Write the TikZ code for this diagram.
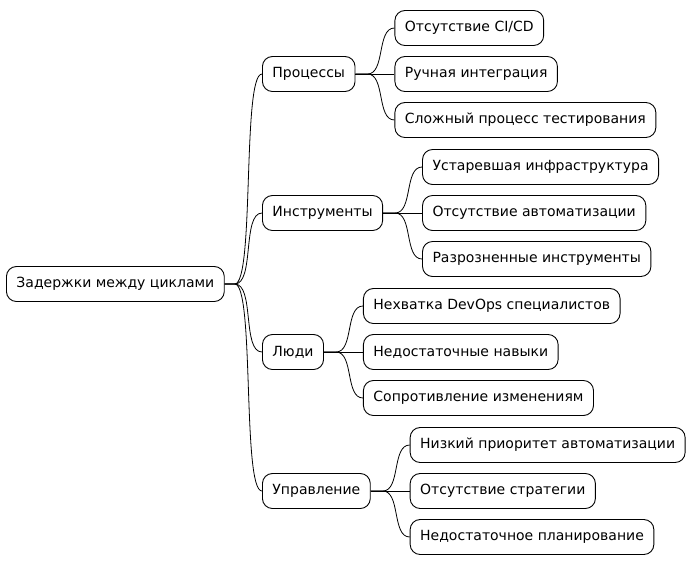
\documentclass[tikz,border=0pt]{standalone}
\usepackage{fontspec}
\setmainfont{DejaVu Sans}
\usetikzlibrary{positioning}

\begin{document}
\begin{tikzpicture}[
  x=1pt, y=-1pt,
  every node/.style={draw, rounded corners=10pt, fill=white, line width=0.9pt,
                     minimum height=35pt, inner xsep=10pt, inner ysep=0pt,
                     font=\fontsize{14}{17}\selectfont},
  link/.style={line width=0.8pt}
]
\useasboundingbox (0,0) rectangle (691,566);
\node[anchor=west] (root) at (6,284) {Задержки между циклами};
\node[anchor=west] (proc) at (262,74)  {Процессы};
\node[anchor=west] (tool) at (262,213) {Инструменты};
\node[anchor=west] (ppl)  at (262,352) {Люди};
\node[anchor=west] (mgmt) at (262,491) {Управление};
\node[right=39pt of proc, yshift=46pt]  (cicd)  {Отсутствие CI/CD};
\node[right=39pt of proc]               (integ) {Ручная интеграция};
\node[right=39pt of proc, yshift=-46pt] (test)  {Сложный процесс тестирования};
\node[right=39pt of tool, yshift=46pt]  (infra) {Устаревшая инфраструктура};
\node[right=39pt of tool]               (auto)  {Отсутствие автоматизации};
\node[right=39pt of tool, yshift=-46pt] (scat)  {Разрозненные инструменты};
\node[right=39pt of ppl, yshift=46pt]   (devops) {Нехватка DevOps специалистов};
\node[right=39pt of ppl]                (skill) {Недостаточные навыки};
\node[right=39pt of ppl, yshift=-46pt]  (resist) {Сопротивление изменениям};
\node[right=39pt of mgmt, yshift=46pt]  (prio)  {Низкий приоритет автоматизации};
\node[right=39pt of mgmt]               (strat) {Отсутствие стратегии};
\node[right=39pt of mgmt, yshift=-46pt] (plan)  {Недостаточное планирование};
\draw[link] (root.east) -- ++(10,0) .. controls +(20,0) and +(-20,0) .. (proc.west);
\draw[link] (root.east) -- ++(10,0) .. controls +(20,0) and +(-20,0) .. (tool.west);
\draw[link] (root.east) -- ++(10,0) .. controls +(20,0) and +(-20,0) .. (ppl.west);
\draw[link] (root.east) -- ++(10,0) .. controls +(20,0) and +(-20,0) .. (mgmt.west);
\draw[link] (proc.east) -- ++(12,0) .. controls +(18,0) and +(-18,0) .. (cicd.west);
\draw[link] (proc.east) -- (integ.west);
\draw[link] (proc.east) -- ++(12,0) .. controls +(18,0) and +(-18,0) .. (test.west);
\draw[link] (tool.east) -- ++(12,0) .. controls +(18,0) and +(-18,0) .. (infra.west);
\draw[link] (tool.east) -- (auto.west);
\draw[link] (tool.east) -- ++(12,0) .. controls +(18,0) and +(-18,0) .. (scat.west);
\draw[link] (ppl.east) -- ++(12,0) .. controls +(18,0) and +(-18,0) .. (devops.west);
\draw[link] (ppl.east) -- (skill.west);
\draw[link] (ppl.east) -- ++(12,0) .. controls +(18,0) and +(-18,0) .. (resist.west);
\draw[link] (mgmt.east) -- ++(12,0) .. controls +(18,0) and +(-18,0) .. (prio.west);
\draw[link] (mgmt.east) -- (strat.west);
\draw[link] (mgmt.east) -- ++(12,0) .. controls +(18,0) and +(-18,0) .. (plan.west);
\end{tikzpicture}
\end{document}
